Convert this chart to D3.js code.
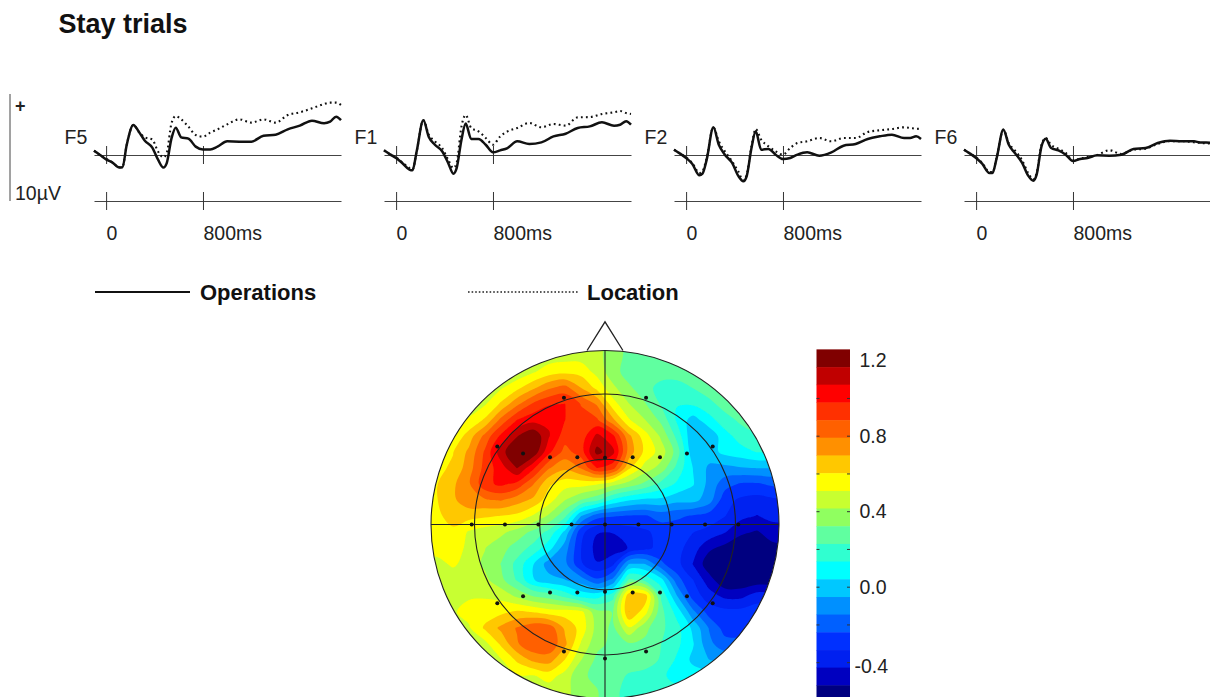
<!DOCTYPE html>
<html>
<head>
<meta charset="utf-8">
<script src="https://cdn.jsdelivr.net/npm/d3@7"></script>
<style>
  html, body { margin: 0; padding: 0; background: #fff; overflow: hidden; }
  svg { display: block; font-family: "Liberation Sans", Arial, sans-serif; fill: #222; }
</style>
</head>
<body>
<svg id="chart" width="1210" height="697"></svg>
<script>
// time points in ms, shared by all traces
const times = [-100,-50,0,50,110,135,170,225,270,320,380,430,473,500,540,575,620,680,740,800,860,920,1000,1100,1200,1300,1400,1500,1600,1700,1800,1850,1900,1940];

const f5Operations = [.41,0,-.41,-.69,-1.19,-1.16,.94,2.83,2.2,1.35,.72,-.47,-1.19,-.79,1.57,2.58,1.67,1.54,.79,.53,.53,.79,1.29,1.26,1.26,1.82,1.92,2.42,2.77,3.24,2.99,3.14,3.62,3.3];
const f5Location = [.41,0,-.35,-.69,-1.16,-1.1,.94,2.83,2.2,1.67,1.48,.31,-.22,.16,2.99,3.68,3.36,2.67,1.89,1.73,2.11,2.42,2.89,3.36,3.05,3.36,3.05,3.77,4.03,4.4,4.81,4.94,4.94,4.72];
const f1Operations = [.44,.06,-.28,-.75,-1.38,-1.45,.35,3.27,1.7,.97,.35,-.75,-1.76,-1.23,1.45,2.96,1.51,1.51,.97,.25,.44,.66,1.29,1.04,1.19,1.76,2.01,2.55,2.7,3.08,2.77,2.86,3.18,2.86];
const f1Location = [.44,.06,-.22,-.69,-1.23,-1.38,.35,3.27,1.92,1.29,.66,-.44,-1.23,-.75,2.7,3.77,2.55,2.23,1.61,.97,1.76,2.23,2.55,3.02,2.61,2.92,2.77,3.55,3.58,3.87,4.03,4.15,3.96,3.87];
const f2Operations = [.5,.13,-.28,-.82,-1.92,-1.76,-.44,2.61,.97,.03,-.75,-1.95,-2.48,-2.01,.66,2.23,.5,.57,.03,-.38,-.28,.03,.25,-.06,.25,.88,1.04,1.51,1.76,1.92,1.6,1.6,1.76,1.51];
const f2Location = [.5,.13,-.22,-.75,-1.7,-1.54,-.28,2.61,1.29,.35,-.6,-1.54,-2.39,-1.86,.82,2.45,1.45,.82,.35,.03,.66,1.13,1.29,1.6,1.29,1.6,1.6,2.17,2.33,2.45,2.61,2.55,2.48,2.45];
const f6Operations = [.5,.13,-.28,-.82,-1.7,-1.7,-.28,2.39,.97,.19,-.75,-1.95,-2.42,-1.85,.82,1.54,.66,.44,.03,-.57,-.38,-.28,-.03,-.06,.03,.57,.66,1.13,1.35,1.29,1.29,1.19,1.19,1.13];
const f6Location = [.5,.13,-.22,-.75,-1.6,-1.6,-.22,2.39,1.1,.44,-.5,-1.7,-2.3,-1.7,.95,1.6,.95,.6,.2,-.5,-.35,-.2,0,.45,.1,.5,.6,1.05,1.3,1.3,1.2,1.15,1.1,1.1];

const channels = ["F5", "F1", "F2", "F6"];
const operations = [f5Operations, f1Operations, f2Operations, f6Operations];
const locations = [f5Location, f1Location, f2Location, f6Location];
const timeTicks = [0, 800];

// colour bands of the map, top of the bar first
const bandEdges = [1.26,1.166,1.073,.979,.885,.792,.698,.604,.51,.417,.323,.229,.136,.042,-.052,-.145,-.239,-.333,-.426,-.52,-.614];
const bandColors = ["#800000","#c00000","#ff0000","#ff3000","#ff6000","#ff9000","#ffc800","#ffff00","#c8ff30","#90ff60","#60ffa0","#30ffd0","#00ffff","#00c8ff","#0090ff","#0060ff","#0030ff","#0020f0","#0000c0","#000080"];
const barLabels = [1.2, .8, .4, 0, -.4];
const barTicks = [1, .8, .6, .4, .2, 0, -.2, -.4];

// electrodes in head units, nose up
const electrodeX = [-.236,.236,-.619,-.471,-.316,-.159,0,.159,.316,.471,.619,-.766,-.575,-.383,-.192,0,.192,.383,.575,.766,-.619,-.471,-.316,-.159,0,.159,.316,.471,.619,-.236,.236,0];
const electrodeY = [.728,.728,.448,.408,.387,.387,.383,.387,.387,.408,.448,0,0,0,0,0,0,0,0,0,-.452,-.412,-.391,-.391,-.387,-.391,-.391,-.412,-.452,-.73,-.73,-.77];
const ringRadii = [1, .75, .375];

// voltage on a 24 x 24 grid, top row first
const mapGrid = [
  [.45,.45,.45,.45,.45,.45,.45,.45,.45,.45,.45,.45,.36,.3,.3,.3,.28,.28,.28,.28,.28,.28,.28,.28],
  [.45,.45,.45,.45,.45,.45,.45,.45,.46,.47,.47,.45,.36,.3,.3,.3,.28,.28,.28,.28,.28,.28,.28,.28],
  [.44,.44,.44,.44,.44,.44,.44,.5,.56,.58,.57,.48,.36,.28,.28,.28,.27,.27,.27,.27,.27,.27,.27,.27],
  [.44,.44,.44,.44,.47,.5,.58,.68,.78,.83,.7,.58,.44,.34,.27,.19,.19,.23,.28,.28,.28,.28,.28,.28],
  [.46,.46,.46,.46,.5,.62,.77,.9,.97,.98,.88,.78,.55,.42,.33,.22,.14,.15,.2,.27,.28,.28,.28,.28],
  [.48,.48,.48,.52,.62,.82,.98,1.04,1.06,.98,.92,.9,.72,.52,.42,.3,.12,0,.1,.19,.25,.27,.27,.27],
  [.52,.52,.52,.65,.82,1,1.16,1.25,1.08,.93,.92,1.1,1,.72,.55,.4,.2,-.04,-.03,.1,.18,.22,.22,.22],
  [.56,.56,.6,.72,.9,1.13,1.26,1.24,1,.85,.93,1.2,1.1,.75,.58,.47,.28,-.03,0,.07,.1,.14,.14,.14],
  [.58,.58,.62,.75,.92,1.03,1.17,1,.8,.72,.8,.98,.92,.62,.47,.38,.2,.04,-.07,-.08,-.06,-.05,-.05,-.05],
  [.6,.6,.68,.78,.95,1,.95,.8,.62,.55,.55,.52,.45,.38,.3,.2,.12,.05,-.08,-.2,-.25,-.25,-.22,-.22],
  [.6,.6,.68,.76,.78,.8,.74,.68,.55,.42,.32,.25,.12,.05,.02,.02,-.02,-.02,-.1,-.3,-.35,-.37,-.35,-.35],
  [.58,.58,.65,.64,.62,.6,.58,.5,.4,.25,-.05,-.2,-.23,-.25,-.25,-.2,-.22,-.25,-.28,-.33,-.4,-.43,-.4,-.4],
  [.56,.56,.58,.5,.46,.44,.38,.3,.2,.02,-.3,-.42,-.42,-.38,-.35,-.3,-.3,-.33,-.36,-.42,-.5,-.53,-.47,-.47],
  [.56,.56,.57,.48,.42,.36,.28,.2,.08,-.1,-.33,-.46,-.48,-.42,-.36,-.3,-.3,-.38,-.5,-.55,-.6,-.62,-.55,-.55],
  [.47,.47,.53,.46,.4,.32,.2,.05,-.1,-.12,-.32,-.42,-.35,-.05,-.05,-.22,-.3,-.43,-.58,-.62,-.62,-.62,-.55,-.55],
  [.44,.44,.44,.44,.44,.35,.22,.05,-.02,-.05,-.1,-.22,-.12,.25,.2,.08,-.2,-.33,-.48,-.6,-.6,-.58,-.58,-.58],
  [.44,.44,.44,.5,.5,.48,.4,.32,.28,.2,.1,.1,.2,.68,.66,.22,-.05,-.28,-.38,-.45,-.45,-.38,-.38,-.38],
  [.5,.5,.5,.54,.56,.58,.62,.6,.56,.56,.54,.35,.32,.7,.55,.26,.1,-.12,-.28,-.3,-.3,-.28,-.28,-.28],
  [.5,.5,.5,.5,.62,.72,.8,.87,.85,.68,.57,.38,.3,.5,.35,.25,.17,.02,-.15,-.28,-.3,-.28,-.28,-.28],
  [.48,.48,.48,.48,.48,.62,.78,.87,.87,.72,.5,.35,.3,.31,.3,.23,.16,.05,-.12,-.2,-.2,-.2,-.2,-.2],
  [.48,.48,.48,.48,.48,.5,.62,.72,.74,.6,.42,.3,.27,.27,.27,.22,.12,.02,-.05,-.08,-.08,-.08,-.08,-.08],
  [.5,.5,.5,.5,.5,.5,.5,.5,.55,.47,.34,.3,.26,.22,.2,.16,.09,.09,.09,.09,.09,.09,.09,.09],
  [.45,.45,.45,.45,.45,.45,.45,.45,.45,.45,.36,.33,.25,.2,.18,.18,.18,.18,.18,.18,.18,.18,.18,.18],
  [.45,.45,.45,.45,.45,.45,.45,.45,.45,.45,.36,.33,.25,.2,.18,.18,.18,.18,.18,.18,.18,.18,.18,.18],
];

const svg = d3.select("#chart");
const textColor = "#222";

svg.append("text").attr("x", 58.5).attr("y", 33)
  .attr("font-size", 27).attr("font-weight", "bold").attr("fill", "#111")
  .text("Stay trials");

// voltage scale bar
svg.append("line").attr("x1", 10).attr("x2", 10).attr("y1", 94).attr("y2", 201)
  .attr("stroke", "#444").attr("stroke-width", 1);
svg.append("text").attr("x", 15).attr("y", 112).attr("font-size", 18).attr("font-weight", "bold").text("+");
svg.append("text").attr("x", 15).attr("y", 200).attr("font-size", 19.5).text("10µV");

// ERP panels
const panelLeft = [94, 384, 674, 964];
const panelWidth = 247;
const y = d3.scaleLinear().domain([-5, 5]).range([208, 102]);

channels.forEach((name, i) => {
  const x = d3.scaleLinear().domain([-100, 1940]).range([panelLeft[i], panelLeft[i] + panelWidth]);
  const g = svg.append("g");

  function timeAxis(yPos, withLabels) {
    const ax = g.append("g").attr("transform", `translate(0,${yPos})`)
      .call(d3.axisBottom(x).tickValues(timeTicks).tickSizeOuter(0)
        .tickFormat(d => d === 0 ? "0" : d + "ms"));
    ax.select(".domain").attr("stroke", "#444");
    ax.selectAll(".tick line").attr("stroke", "#333").attr("y1", -9).attr("y2", 9);
    ax.selectAll(".tick text")
      .attr("text-anchor", "start").attr("y", 38.5).attr("dy", 0)
      .attr("font-size", 19.5).attr("font-family", "Liberation Sans").attr("fill", textColor)
      .style("display", withLabels ? null : "none");
  }
  timeAxis(y(0), false);
  timeAxis(201, true);

  g.append("text").attr("x", panelLeft[i] - 29.5).attr("y", 144)
    .attr("font-size", 19.5).text(name);

  const line = d3.line().x((d, k) => x(times[k])).y(d => y(d)).curve(d3.curveMonotoneX);
  g.append("path").datum(locations[i]).attr("d", line).attr("fill", "none")
    .attr("stroke", "#111").attr("stroke-width", 2.1).attr("stroke-dasharray", "1.8 3.2");
  g.append("path").datum(operations[i]).attr("d", line).attr("fill", "none")
    .attr("stroke", "#111").attr("stroke-width", 2.5);
});

// legend
svg.append("line").attr("x1", 95).attr("x2", 190).attr("y1", 292).attr("y2", 292)
  .attr("stroke", "#111").attr("stroke-width", 2.2);
svg.append("text").attr("x", 200).attr("y", 300).attr("font-size", 22).attr("font-weight", "bold").attr("fill", "#111").text("Operations");
svg.append("line").attr("x1", 468).attr("x2", 578).attr("y1", 292).attr("y2", 292)
  .attr("stroke", "#222").attr("stroke-width", 1.6).attr("stroke-dasharray", "1.6 2");
svg.append("text").attr("x", 587).attr("y", 300).attr("font-size", 22).attr("font-weight", "bold").attr("fill", "#111").text("Location");

// topographic map
const headX = d3.scaleLinear().domain([-1, 1]).range([431, 779]);
const headY = d3.scaleLinear().domain([-1, 1]).range([698.5, 350.5]);
const headR = v => headX(v) - headX(0);
const gridX = d3.scaleLinear().domain([.5, 23.5]).range([421, 789]);
const gridY = d3.scaleLinear().domain([.5, 23.5]).range([340, 708]);

const defs = svg.append("defs");
defs.append("clipPath").attr("id", "head")
  .append("circle").attr("cx", headX(0)).attr("cy", headY(0)).attr("r", headR(1));
defs.append("filter").attr("id", "soft")
  .append("feGaussianBlur").attr("stdDeviation", .6);

const mapG = svg.append("g").attr("clip-path", "url(#head)");
const bandsG = mapG.append("g").attr("filter", "url(#soft)");
bandsG.append("circle").attr("cx", headX(0)).attr("cy", headY(0)).attr("r", headR(1)).attr("fill", bandColors[19]);

const levels = bandEdges.slice(1, 20).reverse();
const contours = d3.contours().size([24, 24]).thresholds(levels)(mapGrid.flat());
const ringLine = d3.line().x(p => gridX(p[0])).y(p => gridY(p[1])).curve(d3.curveCatmullRomClosed.alpha(.5));

contours.forEach(c => {
  // a contour holds everything above its level: paint it in the band that starts there
  const band = bandEdges.indexOf(c.value) - 1;
  const rings = c.coordinates.flatMap(poly => poly.map(r => ringLine(r.slice(0, -1))));
  bandsG.append("path").attr("d", rings.join("")).attr("fill", bandColors[band]).attr("fill-rule", "evenodd");
});

// nose, rings, cross lines, electrodes
const headLine = d3.line().x(d => headX(d[0])).y(d => headY(d[1]));
svg.append("path").attr("d", headLine([[-.103, 1], [0, 1.165], [.103, 1]]))
  .attr("fill", "none").attr("stroke", "#222").attr("stroke-width", 1.3);
ringRadii.forEach(r => {
  svg.append("circle").attr("cx", headX(0)).attr("cy", headY(0)).attr("r", headR(r))
    .attr("fill", "none").attr("stroke", "#222").attr("stroke-width", 1.1);
});
svg.append("line").attr("x1", headX(-1)).attr("x2", headX(1)).attr("y1", headY(0)).attr("y2", headY(0))
  .attr("stroke", "#222").attr("stroke-width", 1.1);
svg.append("line").attr("x1", headX(0)).attr("x2", headX(0)).attr("y1", headY(1)).attr("y2", headY(-1))
  .attr("stroke", "#222").attr("stroke-width", 1.1);
svg.selectAll("circle.electrode").data(electrodeX).join("circle").attr("class", "electrode")
  .attr("cx", d => headX(d)).attr("cy", (d, i) => headY(electrodeY[i])).attr("r", 2).attr("fill", "#111");

// colour bar
const barY = d3.scaleLinear().domain([1.2, -.4]).range([360.7, 662.7]);
const barX = 816.5, barW = 33.5;
const barG = svg.append("g");
barG.selectAll("rect").data(bandColors).join("rect")
  .attr("x", barX).attr("width", barW)
  .attr("y", (d, i) => barY(bandEdges[i]))
  .attr("height", (d, i) => barY(bandEdges[i + 1]) - barY(bandEdges[i]) + .5)
  .attr("fill", d => d);
barG.selectAll("line").data(barTicks).join("line")
  .attr("x1", barX).attr("x2", barX + barW)
  .attr("y1", d => barY(d)).attr("y2", d => barY(d))
  .attr("stroke", "#333").attr("stroke-dasharray", `3 ${barW - 6} 3 0`);
const barAxis = svg.append("g").attr("transform", `translate(${barX + barW},0)`)
  .call(d3.axisRight(barY).tickValues(barLabels).tickSize(0)
    .tickFormat(d => d3.format(".1f")(d).replace("\u2212", "-")));
barAxis.select(".domain").remove();
barAxis.selectAll("text").attr("x", d => d < 0 ? 38 : 36.5).attr("y", d => d < 0 ? 4 : 0).attr("text-anchor", "end")
  .attr("font-size", 19.5).attr("font-family", "Liberation Sans").attr("fill", textColor);
</script>
</body>
</html>
